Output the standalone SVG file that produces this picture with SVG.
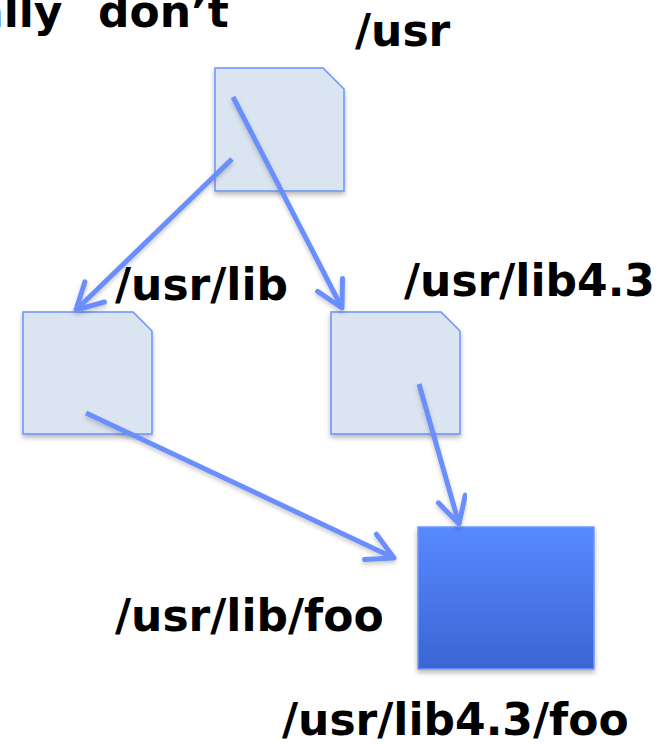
<svg xmlns="http://www.w3.org/2000/svg" width="665" height="744" viewBox="0 0 665 744">
  <style>
    .label { font-family: "DejaVu Sans", "Liberation Sans", sans-serif; font-weight: bold; font-size: 44px; fill: #000; }
    .dir { fill: #dbe5f1; stroke: #6b93fb; stroke-width: 1.5; filter: url(#shadow); }
    .file { fill: url(#fileFill); stroke: #6e98ff; stroke-width: 1.5; filter: url(#shadow); }
    .link { fill: none; stroke: #6a8ffc; stroke-width: 5; stroke-linecap: butt; marker-end: url(#chevron); filter: url(#lineShadow); }
  </style>
  <defs>
    <linearGradient id="fileFill" x1="0" y1="0" x2="0" y2="1">
      <stop offset="0" stop-color="#5889ff"/>
      <stop offset="1" stop-color="#3a65d3"/>
    </linearGradient>
    <filter id="shadow" x="-20%" y="-20%" width="140%" height="140%">
      <feDropShadow dx="0" dy="3" stdDeviation="2.5" flood-color="#000" flood-opacity="0.28"/>
    </filter>
    <filter id="lineShadow" x="-20%" y="-20%" width="140%" height="140%">
      <feDropShadow dx="0" dy="2.5" stdDeviation="2" flood-color="#000" flood-opacity="0.22"/>
    </filter>
    <!-- open chevron head, sized in user units so it ignores the stroke width -->
    <marker id="chevron" markerUnits="userSpaceOnUse" viewBox="-32 -20 36 40" refX="0" refY="0" markerWidth="36" markerHeight="40" orient="auto" overflow="visible">
      <path d="M -26,-14 L 0,0 L -26,14" fill="none" stroke="#6a8ffc" stroke-width="5" stroke-linecap="round" stroke-linejoin="round"/>
    </marker>
  </defs>

  <!-- heading fragment at the top edge -->
  <text class="label" x="-26" y="27">ally <tspan x="98">don’t</tspan></text>

  <g id="node-usr">
    <path class="dir" d="M 215,68 H 323 L 344,89 V 191 H 215 Z"/>
    <text class="label" x="355" y="46">/usr</text>
  </g>

  <g id="node-usr-lib">
    <path class="dir" d="M 23,312 H 133 L 152,331 V 434 H 23 Z"/>
    <text class="label" x="115" y="300">/usr/lib</text>
  </g>

  <g id="node-usr-lib43">
    <path class="dir" d="M 331,312 H 441 L 460,331 V 434 H 331 Z"/>
    <text class="label" x="404" y="296">/usr/lib4.3</text>
  </g>

  <g id="node-foo">
    <rect class="file" x="418" y="527" width="176" height="142"/>
    <text class="label" x="115" y="631">/usr/lib/foo</text>
    <text class="label" x="282" y="735">/usr/lib4.3/foo</text>
  </g>

  <g id="connectors">
    <line class="link" x1="233" y1="97" x2="342" y2="308"/>
    <line class="link" x1="232" y1="159" x2="76" y2="310"/>
    <line class="link" x1="86" y1="413" x2="394" y2="558"/>
    <line class="link" x1="419" y1="384" x2="459" y2="524"/>
  </g>
</svg>
